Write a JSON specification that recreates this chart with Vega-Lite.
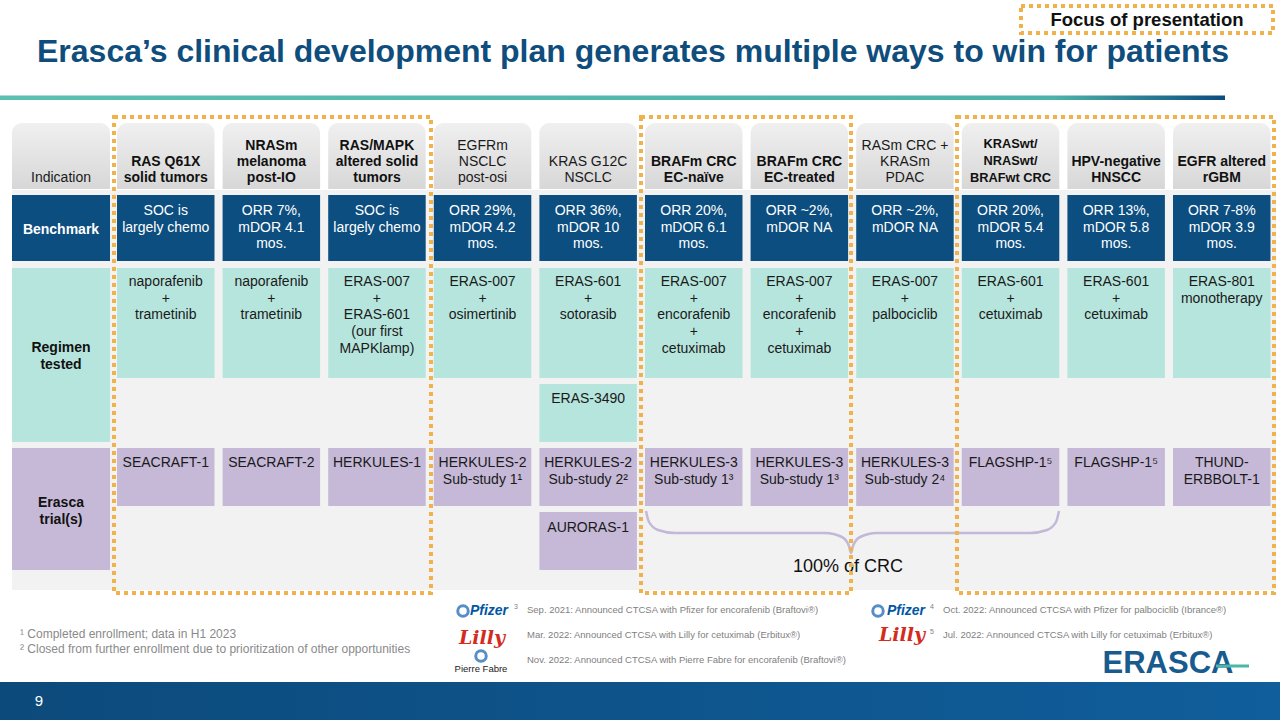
{
  "$schema": "https://vega.github.io/schema/vega-lite/v6.json",
  "width": 1280,
  "height": 720,
  "autosize": {"type": "fit", "contains": "padding"},
  "padding": 0,
  "background": "#ffffff",
  "config": {"font": "Liberation Sans", "view": {"stroke": null}},
  "datasets": {
    "cols": [
      {"col": 0, "x0": 12, "x1": 110, "xc": 61},
      {"col": 1, "x0": 117, "x1": 214.5, "xc": 165.75},
      {"col": 2, "x0": 222.6, "x1": 320.1, "xc": 271.35},
      {"col": 3, "x0": 328.2, "x1": 425.7, "xc": 376.95},
      {"col": 4, "x0": 433.8, "x1": 531.3, "xc": 482.55},
      {"col": 5, "x0": 539.4, "x1": 636.9, "xc": 588.15},
      {"col": 6, "x0": 645, "x1": 742.5, "xc": 693.75},
      {"col": 7, "x0": 750.6, "x1": 848.1, "xc": 799.35},
      {"col": 8, "x0": 856.2, "x1": 953.7, "xc": 904.95},
      {"col": 9, "x0": 961.8, "x1": 1059.3, "xc": 1010.55},
      {"col": 10, "x0": 1067.4, "x1": 1164.9, "xc": 1116.15},
      {"col": 11, "x0": 1173, "x1": 1270.5, "xc": 1221.75}
    ],
    "rows": [
      {"row": "ind", "y0": 123, "y1": 189, "ty": 185},
      {"row": "bench", "y0": 195, "y1": 261, "ty": 204},
      {"row": "benchL", "y0": 195, "y1": 261, "ty": 230},
      {"row": "reg", "y0": 268, "y1": 378, "ty": 275},
      {"row": "reg2", "y0": 384, "y1": 442, "ty": 392},
      {"row": "regAll", "y0": 268, "y1": 442, "ty": 348},
      {"row": "trial", "y0": 448, "y1": 506, "ty": 456},
      {"row": "trial2", "y0": 512, "y1": 570, "ty": 521},
      {"row": "trialAll", "y0": 448, "y1": 570, "ty": 503}
    ],
    "cells": [
      {"col": 0, "row": "ind", "kind": "ind", "focus": false, "lines": ["Indication"]},
      {"col": 0, "row": "benchL", "kind": "bench", "lines": ["Benchmark"]},
      {"col": 0, "row": "regAll", "kind": "reg", "lines": ["Regimen", "tested"]},
      {"col": 0, "row": "trialAll", "kind": "trial", "lines": ["Erasca", "trial(s)"]},
      {"col": 1, "row": "ind", "kind": "ind", "focus": true, "lines": ["RAS Q61X", "solid tumors"]},
      {"col": 2, "row": "ind", "kind": "ind", "focus": true, "lines": ["NRASm", "melanoma", "post-IO"]},
      {"col": 3, "row": "ind", "kind": "ind", "focus": true, "lines": ["RAS/MAPK", "altered solid", "tumors"]},
      {"col": 4, "row": "ind", "kind": "ind", "focus": false, "lines": ["EGFRm", "NSCLC", "post-osi"]},
      {"col": 5, "row": "ind", "kind": "ind", "focus": false, "lines": ["KRAS G12C", "NSCLC"]},
      {"col": 6, "row": "ind", "kind": "ind", "focus": true, "lines": ["BRAFm CRC", "EC-naïve"]},
      {"col": 7, "row": "ind", "kind": "ind", "focus": true, "lines": ["BRAFm CRC", "EC-treated"]},
      {"col": 8, "row": "ind", "kind": "ind", "focus": false, "lines": ["RASm CRC +", "KRASm", "PDAC"]},
      {"col": 9, "row": "ind", "kind": "ind", "focus": true, "lines": ["KRASwt/", "NRASwt/", "BRAFwt CRC"]},
      {"col": 10, "row": "ind", "kind": "ind", "focus": true, "lines": ["HPV-negative", "HNSCC"]},
      {"col": 11, "row": "ind", "kind": "ind", "focus": true, "lines": ["EGFR altered", "rGBM"]},
      {"col": 1, "row": "bench", "kind": "bench", "lines": ["SOC is", "largely chemo"]},
      {"col": 2, "row": "bench", "kind": "bench", "lines": ["ORR 7%,", "mDOR 4.1", "mos."]},
      {"col": 3, "row": "bench", "kind": "bench", "lines": ["SOC is", "largely chemo"]},
      {"col": 4, "row": "bench", "kind": "bench", "lines": ["ORR 29%,", "mDOR 4.2", "mos."]},
      {"col": 5, "row": "bench", "kind": "bench", "lines": ["ORR 36%,", "mDOR 10", "mos."]},
      {"col": 6, "row": "bench", "kind": "bench", "lines": ["ORR 20%,", "mDOR 6.1", "mos."]},
      {"col": 7, "row": "bench", "kind": "bench", "lines": ["ORR ~2%,", "mDOR NA"]},
      {"col": 8, "row": "bench", "kind": "bench", "lines": ["ORR ~2%,", "mDOR NA"]},
      {"col": 9, "row": "bench", "kind": "bench", "lines": ["ORR 20%,", "mDOR 5.4", "mos."]},
      {"col": 10, "row": "bench", "kind": "bench", "lines": ["ORR 13%,", "mDOR 5.8", "mos."]},
      {"col": 11, "row": "bench", "kind": "bench", "lines": ["ORR 7-8%", "mDOR 3.9", "mos."]},
      {"col": 1, "row": "reg", "kind": "reg", "lines": ["naporafenib", "+", "trametinib"]},
      {"col": 2, "row": "reg", "kind": "reg", "lines": ["naporafenib", "+", "trametinib"]},
      {"col": 3, "row": "reg", "kind": "reg", "lines": ["ERAS-007", "+", "ERAS-601", "(our first", "MAPKlamp)"]},
      {"col": 4, "row": "reg", "kind": "reg", "lines": ["ERAS-007", "+", "osimertinib"]},
      {"col": 5, "row": "reg", "kind": "reg", "lines": ["ERAS-601", "+", "sotorasib"]},
      {"col": 6, "row": "reg", "kind": "reg", "lines": ["ERAS-007", "+", "encorafenib", "+", "cetuximab"]},
      {"col": 7, "row": "reg", "kind": "reg", "lines": ["ERAS-007", "+", "encorafenib", "+", "cetuximab"]},
      {"col": 8, "row": "reg", "kind": "reg", "lines": ["ERAS-007", "+", "palbociclib"]},
      {"col": 9, "row": "reg", "kind": "reg", "lines": ["ERAS-601", "+", "cetuximab"]},
      {"col": 10, "row": "reg", "kind": "reg", "lines": ["ERAS-601", "+", "cetuximab"]},
      {"col": 11, "row": "reg", "kind": "reg", "lines": ["ERAS-801", "monotherapy"]},
      {"col": 5, "row": "reg2", "kind": "reg", "lines": ["ERAS-3490"]},
      {"col": 1, "row": "trial", "kind": "trial", "lines": ["SEACRAFT-1"]},
      {"col": 2, "row": "trial", "kind": "trial", "lines": ["SEACRAFT-2"]},
      {"col": 3, "row": "trial", "kind": "trial", "lines": ["HERKULES-1"]},
      {"col": 4, "row": "trial", "kind": "trial", "lines": ["HERKULES-2", "Sub-study 1¹"]},
      {"col": 5, "row": "trial", "kind": "trial", "lines": ["HERKULES-2", "Sub-study 2²"]},
      {"col": 6, "row": "trial", "kind": "trial", "lines": ["HERKULES-3", "Sub-study 1³"]},
      {"col": 7, "row": "trial", "kind": "trial", "lines": ["HERKULES-3", "Sub-study 1³"]},
      {"col": 8, "row": "trial", "kind": "trial", "lines": ["HERKULES-3", "Sub-study 2⁴"]},
      {"col": 9, "row": "trial", "kind": "trial", "lines": ["FLAGSHP-1⁵"]},
      {"col": 10, "row": "trial", "kind": "trial", "lines": ["FLAGSHP-1⁵"]},
      {"col": 11, "row": "trial", "kind": "trial", "lines": ["THUND-", "ERBBOLT-1"]},
      {"col": 5, "row": "trial2", "kind": "trial", "lines": ["AURORAS-1"]}
    ],
    "focusBoxes": [
      {"box": "RAS/MAPK", "x0": 114, "x1": 431, "y0": 117, "y1": 593},
      {"box": "BRAFm CRC", "x0": 641, "x1": 851, "y0": 117, "y1": 593},
      {"box": "CRC/HNSCC/rGBM", "x0": 957, "x1": 1274, "y0": 117, "y1": 593},
      {"box": "legend", "x0": 1021, "x1": 1273, "y0": 6, "y1": 33}
    ],
    "brace": [
      {"i": 0, "x": 646, "y": 511},
      {"i": 1, "x": 649, "y": 522},
      {"i": 2, "x": 658, "y": 530},
      {"i": 3, "x": 675, "y": 533},
      {"i": 4, "x": 825, "y": 533},
      {"i": 5, "x": 842, "y": 537},
      {"i": 6, "x": 849, "y": 546},
      {"i": 7, "x": 851, "y": 553},
      {"i": 8, "x": 853, "y": 546},
      {"i": 9, "x": 860, "y": 537},
      {"i": 10, "x": 877, "y": 533},
      {"i": 11, "x": 1030, "y": 533},
      {"i": 12, "x": 1047, "y": 530},
      {"i": 13, "x": 1056, "y": 522},
      {"i": 14, "x": 1059, "y": 511}
    ],
    "ctcsa": [
      {"x": 527, "y": 610, "label": "Sep. 2021: Announced CTCSA with Pfizer for encorafenib (Braftovi®)"},
      {"x": 527, "y": 635, "label": "Mar. 2022: Announced CTCSA with Lilly for cetuximab (Erbitux®)"},
      {"x": 527, "y": 660, "label": "Nov. 2022: Announced CTCSA with Pierre Fabre for encorafenib (Braftovi®)"},
      {"x": 943, "y": 610, "label": "Oct. 2022: Announced CTCSA with Pfizer for palbociclib (Ibrance®)"},
      {"x": 943, "y": 635, "label": "Jul. 2022: Announced CTCSA with Lilly for cetuximab (Erbitux®)"}
    ],
    "ctcsaNum": [
      {"x": 516, "y": 607, "label": "3"},
      {"x": 932, "y": 607, "label": "4"},
      {"x": 932, "y": 632, "label": "5"}
    ]
  },
  "layer": [
    {
      "data": {"values": [{"x0": 12, "x1": 1276, "y0": 190, "y1": 590}]},
      "mark": {"type": "rect", "fill": "#f2f2f2"},
      "encoding": {
        "x": {"field": "x0", "type": "quantitative", "scale": {"domain": [0, 1280], "nice": false, "zero": false}, "axis": null},
        "x2": {"field": "x1"},
        "y": {"field": "y0", "type": "quantitative", "scale": {"domain": [0, 720], "nice": false, "zero": false, "reverse": true}, "axis": null},
        "y2": {"field": "y1"}
      }
    },
    {
      "data": {"values": [{"x0": 0, "x1": 1225, "y0": 95.5, "y1": 100}]},
      "mark": {"type": "rect", "fill": {"gradient": "linear", "x1": 0, "y1": 0, "x2": 1, "y2": 0, "stops": [{"offset": 0, "color": "#5cc0b1"}, {"offset": 0.86, "color": "#4db2a9"}, {"offset": 1, "color": "#0c4d80"}]}},
      "encoding": {
        "x": {"field": "x0", "type": "quantitative", "scale": {"domain": [0, 1280], "nice": false, "zero": false}, "axis": null},
        "x2": {"field": "x1"},
        "y": {"field": "y0", "type": "quantitative", "scale": {"domain": [0, 720], "nice": false, "zero": false, "reverse": true}, "axis": null},
        "y2": {"field": "y1"}
      }
    },
    {
      "data": {"values": [{"x0": 0, "x1": 1280, "y0": 682, "y1": 720}]},
      "mark": {"type": "rect", "fill": {"gradient": "linear", "x1": 0, "y1": 0, "x2": 1, "y2": 0, "stops": [{"offset": 0, "color": "#0c4a7b"}, {"offset": 1, "color": "#105e9c"}]}},
      "encoding": {
        "x": {"field": "x0", "type": "quantitative", "scale": {"domain": [0, 1280], "nice": false, "zero": false}, "axis": null},
        "x2": {"field": "x1"},
        "y": {"field": "y0", "type": "quantitative", "scale": {"domain": [0, 720], "nice": false, "zero": false, "reverse": true}, "axis": null},
        "y2": {"field": "y1"}
      }
    },
    {
      "data": {"name": "cells"},
      "transform": [
        {"lookup": "col", "from": {"data": {"name": "cols"}, "key": "col", "fields": ["x0", "x1", "xc"]}},
        {"lookup": "row", "from": {"data": {"name": "rows"}, "key": "row", "fields": ["y0", "y1", "ty"]}},
        {"filter": "datum.kind == 'ind'"}
      ],
      "mark": {"type": "rect", "cornerRadiusTopLeft": 10, "cornerRadiusTopRight": 10, "fill": {"gradient": "linear", "x1": 0, "y1": 0, "x2": 0, "y2": 1, "stops": [{"offset": 0, "color": "#f0f0f0"}, {"offset": 1, "color": "#d7d7d7"}]}},
      "encoding": {
        "x": {"field": "x0", "type": "quantitative", "scale": {"domain": [0, 1280], "nice": false, "zero": false}, "axis": null},
        "x2": {"field": "x1"},
        "y": {"field": "y0", "type": "quantitative", "scale": {"domain": [0, 720], "nice": false, "zero": false, "reverse": true}, "axis": null},
        "y2": {"field": "y1"}
      }
    },
    {
      "data": {"name": "cells"},
      "transform": [
        {"lookup": "col", "from": {"data": {"name": "cols"}, "key": "col", "fields": ["x0", "x1", "xc"]}},
        {"lookup": "row", "from": {"data": {"name": "rows"}, "key": "row", "fields": ["y0", "y1", "ty"]}},
        {"filter": "datum.kind == 'bench'"}
      ],
      "mark": {"type": "rect", "fill": "#0c4e80"},
      "encoding": {
        "x": {"field": "x0", "type": "quantitative", "scale": {"domain": [0, 1280], "nice": false, "zero": false}, "axis": null},
        "x2": {"field": "x1"},
        "y": {"field": "y0", "type": "quantitative", "scale": {"domain": [0, 720], "nice": false, "zero": false, "reverse": true}, "axis": null},
        "y2": {"field": "y1"}
      }
    },
    {
      "data": {"name": "cells"},
      "transform": [
        {"lookup": "col", "from": {"data": {"name": "cols"}, "key": "col", "fields": ["x0", "x1", "xc"]}},
        {"lookup": "row", "from": {"data": {"name": "rows"}, "key": "row", "fields": ["y0", "y1", "ty"]}},
        {"filter": "datum.kind == 'reg'"}
      ],
      "mark": {"type": "rect", "fill": "#b6e5dd"},
      "encoding": {
        "x": {"field": "x0", "type": "quantitative", "scale": {"domain": [0, 1280], "nice": false, "zero": false}, "axis": null},
        "x2": {"field": "x1"},
        "y": {"field": "y0", "type": "quantitative", "scale": {"domain": [0, 720], "nice": false, "zero": false, "reverse": true}, "axis": null},
        "y2": {"field": "y1"}
      }
    },
    {
      "data": {"name": "cells"},
      "transform": [
        {"lookup": "col", "from": {"data": {"name": "cols"}, "key": "col", "fields": ["x0", "x1", "xc"]}},
        {"lookup": "row", "from": {"data": {"name": "rows"}, "key": "row", "fields": ["y0", "y1", "ty"]}},
        {"filter": "datum.kind == 'trial'"}
      ],
      "mark": {"type": "rect", "fill": "#c5b9d7"},
      "encoding": {
        "x": {"field": "x0", "type": "quantitative", "scale": {"domain": [0, 1280], "nice": false, "zero": false}, "axis": null},
        "x2": {"field": "x1"},
        "y": {"field": "y0", "type": "quantitative", "scale": {"domain": [0, 720], "nice": false, "zero": false, "reverse": true}, "axis": null},
        "y2": {"field": "y1"}
      }
    },
    {
      "data": {"name": "cells"},
      "transform": [
        {"lookup": "col", "from": {"data": {"name": "cols"}, "key": "col", "fields": ["x0", "x1", "xc"]}},
        {"lookup": "row", "from": {"data": {"name": "rows"}, "key": "row", "fields": ["y0", "y1", "ty"]}},
        {"filter": "datum.kind == 'ind' && datum.focus && length(datum.lines) == 2"}
      ],
      "mark": {"type": "text", "fontSize": 14, "fontWeight": "bold", "baseline": "bottom", "align": "center", "lineHeight": 16.2, "dy": -16.2, "color": "#111111"},
      "encoding": {
        "x": {"field": "xc", "type": "quantitative", "scale": {"domain": [0, 1280], "nice": false, "zero": false}, "axis": null},
        "y": {"field": "ty", "type": "quantitative", "scale": {"domain": [0, 720], "nice": false, "zero": false, "reverse": true}, "axis": null},
        "text": {"field": "lines"}
      }
    },
    {
      "data": {"name": "cells"},
      "transform": [
        {"lookup": "col", "from": {"data": {"name": "cols"}, "key": "col", "fields": ["x0", "x1", "xc"]}},
        {"lookup": "row", "from": {"data": {"name": "rows"}, "key": "row", "fields": ["y0", "y1", "ty"]}},
        {"filter": "datum.kind == 'ind' && datum.focus && length(datum.lines) == 3 && datum.col != 9"}
      ],
      "mark": {"type": "text", "fontSize": 14, "fontWeight": "bold", "baseline": "bottom", "align": "center", "lineHeight": 16.2, "dy": -32.4, "color": "#111111"},
      "encoding": {
        "x": {"field": "xc", "type": "quantitative", "scale": {"domain": [0, 1280], "nice": false, "zero": false}, "axis": null},
        "y": {"field": "ty", "type": "quantitative", "scale": {"domain": [0, 720], "nice": false, "zero": false, "reverse": true}, "axis": null},
        "text": {"field": "lines"}
      }
    },
    {
      "data": {"name": "cells"},
      "transform": [
        {"lookup": "col", "from": {"data": {"name": "cols"}, "key": "col", "fields": ["x0", "x1", "xc"]}},
        {"lookup": "row", "from": {"data": {"name": "rows"}, "key": "row", "fields": ["y0", "y1", "ty"]}},
        {"filter": "datum.kind == 'ind' && datum.col == 9"}
      ],
      "mark": {"type": "text", "fontSize": 12.8, "fontWeight": "bold", "baseline": "bottom", "align": "center", "lineHeight": 17, "dy": -34, "color": "#111111"},
      "encoding": {
        "x": {"field": "xc", "type": "quantitative", "scale": {"domain": [0, 1280], "nice": false, "zero": false}, "axis": null},
        "y": {"field": "ty", "type": "quantitative", "scale": {"domain": [0, 720], "nice": false, "zero": false, "reverse": true}, "axis": null},
        "text": {"field": "lines"}
      }
    },
    {
      "data": {"name": "cells"},
      "transform": [
        {"lookup": "col", "from": {"data": {"name": "cols"}, "key": "col", "fields": ["x0", "x1", "xc"]}},
        {"lookup": "row", "from": {"data": {"name": "rows"}, "key": "row", "fields": ["y0", "y1", "ty"]}},
        {"filter": "datum.kind == 'ind' && !datum.focus && length(datum.lines) == 1"}
      ],
      "mark": {"type": "text", "fontSize": 14, "baseline": "bottom", "align": "center", "lineHeight": 16.2, "color": "#1a1a1a"},
      "encoding": {
        "x": {"field": "xc", "type": "quantitative", "scale": {"domain": [0, 1280], "nice": false, "zero": false}, "axis": null},
        "y": {"field": "ty", "type": "quantitative", "scale": {"domain": [0, 720], "nice": false, "zero": false, "reverse": true}, "axis": null},
        "text": {"field": "lines"}
      }
    },
    {
      "data": {"name": "cells"},
      "transform": [
        {"lookup": "col", "from": {"data": {"name": "cols"}, "key": "col", "fields": ["x0", "x1", "xc"]}},
        {"lookup": "row", "from": {"data": {"name": "rows"}, "key": "row", "fields": ["y0", "y1", "ty"]}},
        {"filter": "datum.kind == 'ind' && !datum.focus && length(datum.lines) == 2"}
      ],
      "mark": {"type": "text", "fontSize": 14, "baseline": "bottom", "align": "center", "lineHeight": 16.2, "dy": -16.2, "color": "#1a1a1a"},
      "encoding": {
        "x": {"field": "xc", "type": "quantitative", "scale": {"domain": [0, 1280], "nice": false, "zero": false}, "axis": null},
        "y": {"field": "ty", "type": "quantitative", "scale": {"domain": [0, 720], "nice": false, "zero": false, "reverse": true}, "axis": null},
        "text": {"field": "lines"}
      }
    },
    {
      "data": {"name": "cells"},
      "transform": [
        {"lookup": "col", "from": {"data": {"name": "cols"}, "key": "col", "fields": ["x0", "x1", "xc"]}},
        {"lookup": "row", "from": {"data": {"name": "rows"}, "key": "row", "fields": ["y0", "y1", "ty"]}},
        {"filter": "datum.kind == 'ind' && !datum.focus && length(datum.lines) == 3"}
      ],
      "mark": {"type": "text", "fontSize": 14, "baseline": "bottom", "align": "center", "lineHeight": 16.2, "dy": -32.4, "color": "#1a1a1a"},
      "encoding": {
        "x": {"field": "xc", "type": "quantitative", "scale": {"domain": [0, 1280], "nice": false, "zero": false}, "axis": null},
        "y": {"field": "ty", "type": "quantitative", "scale": {"domain": [0, 720], "nice": false, "zero": false, "reverse": true}, "axis": null},
        "text": {"field": "lines"}
      }
    },
    {
      "data": {"name": "cells"},
      "transform": [
        {"lookup": "col", "from": {"data": {"name": "cols"}, "key": "col", "fields": ["x0", "x1", "xc"]}},
        {"lookup": "row", "from": {"data": {"name": "rows"}, "key": "row", "fields": ["y0", "y1", "ty"]}},
        {"filter": "datum.kind == 'bench' && datum.col > 0"}
      ],
      "mark": {"type": "text", "fontSize": 14, "baseline": "top", "align": "center", "lineHeight": 16.7, "color": "#ffffff"},
      "encoding": {
        "x": {"field": "xc", "type": "quantitative", "scale": {"domain": [0, 1280], "nice": false, "zero": false}, "axis": null},
        "y": {"field": "ty", "type": "quantitative", "scale": {"domain": [0, 720], "nice": false, "zero": false, "reverse": true}, "axis": null},
        "text": {"field": "lines"}
      }
    },
    {
      "data": {"name": "cells"},
      "transform": [
        {"lookup": "col", "from": {"data": {"name": "cols"}, "key": "col", "fields": ["x0", "x1", "xc"]}},
        {"lookup": "row", "from": {"data": {"name": "rows"}, "key": "row", "fields": ["y0", "y1", "ty"]}},
        {"filter": "(datum.kind == 'reg' || datum.kind == 'trial') && datum.col > 0"}
      ],
      "mark": {"type": "text", "fontSize": 14, "baseline": "top", "align": "center", "lineHeight": 16.7, "color": "#1a1a1a"},
      "encoding": {
        "x": {"field": "xc", "type": "quantitative", "scale": {"domain": [0, 1280], "nice": false, "zero": false}, "axis": null},
        "y": {"field": "ty", "type": "quantitative", "scale": {"domain": [0, 720], "nice": false, "zero": false, "reverse": true}, "axis": null},
        "text": {"field": "lines"}
      }
    },
    {
      "data": {"name": "cells"},
      "transform": [
        {"lookup": "col", "from": {"data": {"name": "cols"}, "key": "col", "fields": ["x0", "x1", "xc"]}},
        {"lookup": "row", "from": {"data": {"name": "rows"}, "key": "row", "fields": ["y0", "y1", "ty"]}},
        {"filter": "datum.kind == 'bench' && datum.col == 0"}
      ],
      "mark": {"type": "text", "fontSize": 14, "fontWeight": "bold", "baseline": "middle", "align": "center", "lineHeight": 16.5, "color": "#ffffff"},
      "encoding": {
        "x": {"field": "xc", "type": "quantitative", "scale": {"domain": [0, 1280], "nice": false, "zero": false}, "axis": null},
        "y": {"field": "ty", "type": "quantitative", "scale": {"domain": [0, 720], "nice": false, "zero": false, "reverse": true}, "axis": null},
        "text": {"field": "lines"}
      }
    },
    {
      "data": {"name": "cells"},
      "transform": [
        {"lookup": "col", "from": {"data": {"name": "cols"}, "key": "col", "fields": ["x0", "x1", "xc"]}},
        {"lookup": "row", "from": {"data": {"name": "rows"}, "key": "row", "fields": ["y0", "y1", "ty"]}},
        {"filter": "(datum.kind == 'reg' || datum.kind == 'trial') && datum.col == 0"}
      ],
      "mark": {"type": "text", "fontSize": 14, "fontWeight": "bold", "baseline": "middle", "align": "center", "lineHeight": 16.5, "color": "#111111"},
      "encoding": {
        "x": {"field": "xc", "type": "quantitative", "scale": {"domain": [0, 1280], "nice": false, "zero": false}, "axis": null},
        "y": {"field": "ty", "type": "quantitative", "scale": {"domain": [0, 720], "nice": false, "zero": false, "reverse": true}, "axis": null},
        "text": {"field": "lines"}
      }
    },
    {
      "data": {"name": "brace"},
      "mark": {"type": "line", "interpolate": "monotone", "stroke": "#c3b8d8", "strokeWidth": 2.5},
      "encoding": {
        "x": {"field": "x", "type": "quantitative", "scale": {"domain": [0, 1280], "nice": false, "zero": false}, "axis": null},
        "y": {"field": "y", "type": "quantitative", "scale": {"domain": [0, 720], "nice": false, "zero": false, "reverse": true}, "axis": null},
        "order": {"field": "i", "type": "quantitative"}
      }
    },
    {
      "data": {"values": [{"x": 848, "y": 567, "label": "100% of CRC"}]},
      "mark": {"type": "text", "fontSize": 18, "baseline": "middle", "align": "center", "color": "#111111"},
      "encoding": {
        "x": {"field": "x", "type": "quantitative", "scale": {"domain": [0, 1280], "nice": false, "zero": false}, "axis": null},
        "y": {"field": "y", "type": "quantitative", "scale": {"domain": [0, 720], "nice": false, "zero": false, "reverse": true}, "axis": null},
        "text": {"field": "label"}
      }
    },
    {
      "data": {"values": [{"x": 37, "y": 62, "label": "Erasca’s clinical development plan generates multiple ways to win for patients"}]},
      "mark": {"type": "text", "fontSize": 32, "fontWeight": "bold", "baseline": "alphabetic", "align": "left", "color": "#0f4d7d"},
      "encoding": {
        "x": {"field": "x", "type": "quantitative", "scale": {"domain": [0, 1280], "nice": false, "zero": false}, "axis": null},
        "y": {"field": "y", "type": "quantitative", "scale": {"domain": [0, 720], "nice": false, "zero": false, "reverse": true}, "axis": null},
        "text": {"field": "label"}
      }
    },
    {
      "data": {"values": [{"x": 1147, "y": 20, "label": "Focus of presentation"}]},
      "mark": {"type": "text", "fontSize": 18.5, "fontWeight": "bold", "baseline": "middle", "align": "center", "color": "#111111"},
      "encoding": {
        "x": {"field": "x", "type": "quantitative", "scale": {"domain": [0, 1280], "nice": false, "zero": false}, "axis": null},
        "y": {"field": "y", "type": "quantitative", "scale": {"domain": [0, 720], "nice": false, "zero": false, "reverse": true}, "axis": null},
        "text": {"field": "label"}
      }
    },
    {
      "data": {"values": [{"x": 20, "y": 638, "label": "¹ Completed enrollment; data in H1 2023"}, {"x": 20, "y": 653, "label": "² Closed from further enrollment due to prioritization of other opportunities"}]},
      "mark": {"type": "text", "fontSize": 12, "baseline": "alphabetic", "align": "left", "color": "#8a8a8a"},
      "encoding": {
        "x": {"field": "x", "type": "quantitative", "scale": {"domain": [0, 1280], "nice": false, "zero": false}, "axis": null},
        "y": {"field": "y", "type": "quantitative", "scale": {"domain": [0, 720], "nice": false, "zero": false, "reverse": true}, "axis": null},
        "text": {"field": "label"}
      }
    },
    {
      "data": {"name": "ctcsa"},
      "mark": {"type": "text", "fontSize": 9.5, "baseline": "middle", "align": "left", "color": "#808080"},
      "encoding": {
        "x": {"field": "x", "type": "quantitative", "scale": {"domain": [0, 1280], "nice": false, "zero": false}, "axis": null},
        "y": {"field": "y", "type": "quantitative", "scale": {"domain": [0, 720], "nice": false, "zero": false, "reverse": true}, "axis": null},
        "text": {"field": "label"}
      }
    },
    {
      "data": {"name": "ctcsaNum"},
      "mark": {"type": "text", "fontSize": 7, "baseline": "middle", "align": "center", "color": "#808080"},
      "encoding": {
        "x": {"field": "x", "type": "quantitative", "scale": {"domain": [0, 1280], "nice": false, "zero": false}, "axis": null},
        "y": {"field": "y", "type": "quantitative", "scale": {"domain": [0, 720], "nice": false, "zero": false, "reverse": true}, "axis": null},
        "text": {"field": "label"}
      }
    },
    {
      "data": {"values": [{"x": 489, "y": 611, "label": "Pfizer"}, {"x": 906, "y": 611, "label": "Pfizer"}]},
      "mark": {"type": "text", "fontSize": 14, "fontWeight": "bold", "fontStyle": "italic", "baseline": "middle", "align": "center", "color": "#0056a4"},
      "encoding": {
        "x": {"field": "x", "type": "quantitative", "scale": {"domain": [0, 1280], "nice": false, "zero": false}, "axis": null},
        "y": {"field": "y", "type": "quantitative", "scale": {"domain": [0, 720], "nice": false, "zero": false, "reverse": true}, "axis": null},
        "text": {"field": "label"}
      }
    },
    {
      "data": {"values": [{"x": 463, "y": 611, "logo": "Pfizer"}, {"x": 878, "y": 611, "logo": "Pfizer"}, {"x": 481, "y": 656, "logo": "Pierre Fabre"}]},
      "mark": {"type": "point", "shape": "circle", "filled": false, "strokeWidth": 3, "size": 110, "color": "#1060b0"},
      "encoding": {
        "x": {"field": "x", "type": "quantitative", "scale": {"domain": [0, 1280], "nice": false, "zero": false}, "axis": null},
        "y": {"field": "y", "type": "quantitative", "scale": {"domain": [0, 720], "nice": false, "zero": false, "reverse": true}, "axis": null}
      }
    },
    {
      "data": {"values": [{"x": 482, "y": 638, "label": "Lilly"}, {"x": 902, "y": 635, "label": "Lilly"}]},
      "mark": {"type": "text", "fontSize": 19, "font": "DejaVu Serif", "fontWeight": "bold", "fontStyle": "italic", "baseline": "middle", "align": "center", "color": "#d52b1e"},
      "encoding": {
        "x": {"field": "x", "type": "quantitative", "scale": {"domain": [0, 1280], "nice": false, "zero": false}, "axis": null},
        "y": {"field": "y", "type": "quantitative", "scale": {"domain": [0, 720], "nice": false, "zero": false, "reverse": true}, "axis": null},
        "text": {"field": "label"}
      }
    },
    {
      "data": {"values": [{"x": 481, "y": 669, "label": "Pierre Fabre"}]},
      "mark": {"type": "text", "fontSize": 9.5, "baseline": "middle", "align": "center", "color": "#222222"},
      "encoding": {
        "x": {"field": "x", "type": "quantitative", "scale": {"domain": [0, 1280], "nice": false, "zero": false}, "axis": null},
        "y": {"field": "y", "type": "quantitative", "scale": {"domain": [0, 720], "nice": false, "zero": false, "reverse": true}, "axis": null},
        "text": {"field": "label"}
      }
    },
    {
      "data": {"values": [{"x": 1168, "y": 664, "label": "ERASCA"}]},
      "mark": {"type": "text", "fontSize": 31, "fontWeight": "bold", "baseline": "middle", "align": "center", "color": "#185b8e"},
      "encoding": {
        "x": {"field": "x", "type": "quantitative", "scale": {"domain": [0, 1280], "nice": false, "zero": false}, "axis": null},
        "y": {"field": "y", "type": "quantitative", "scale": {"domain": [0, 720], "nice": false, "zero": false, "reverse": true}, "axis": null},
        "text": {"field": "label"}
      }
    },
    {
      "data": {"values": [{"x0": 1216, "x1": 1249, "y": 666}]},
      "mark": {"type": "rule", "stroke": "#4db6a6", "strokeWidth": 3},
      "encoding": {
        "x": {"field": "x0", "type": "quantitative", "scale": {"domain": [0, 1280], "nice": false, "zero": false}, "axis": null},
        "x2": {"field": "x1"},
        "y": {"field": "y", "type": "quantitative", "scale": {"domain": [0, 720], "nice": false, "zero": false, "reverse": true}, "axis": null}
      }
    },
    {
      "data": {"values": [{"x": 39, "y": 701, "label": "9"}]},
      "mark": {"type": "text", "fontSize": 15, "baseline": "middle", "align": "center", "color": "#ffffff"},
      "encoding": {
        "x": {"field": "x", "type": "quantitative", "scale": {"domain": [0, 1280], "nice": false, "zero": false}, "axis": null},
        "y": {"field": "y", "type": "quantitative", "scale": {"domain": [0, 720], "nice": false, "zero": false, "reverse": true}, "axis": null},
        "text": {"field": "label"}
      }
    },
    {
      "data": {"name": "focusBoxes"},
      "mark": {"type": "rect", "filled": false, "stroke": "#f0b24a", "strokeWidth": 4, "strokeDash": [4, 4]},
      "encoding": {
        "x": {"field": "x0", "type": "quantitative", "scale": {"domain": [0, 1280], "nice": false, "zero": false}, "axis": null},
        "x2": {"field": "x1"},
        "y": {"field": "y0", "type": "quantitative", "scale": {"domain": [0, 720], "nice": false, "zero": false, "reverse": true}, "axis": null},
        "y2": {"field": "y1"}
      }
    }
  ]
}
